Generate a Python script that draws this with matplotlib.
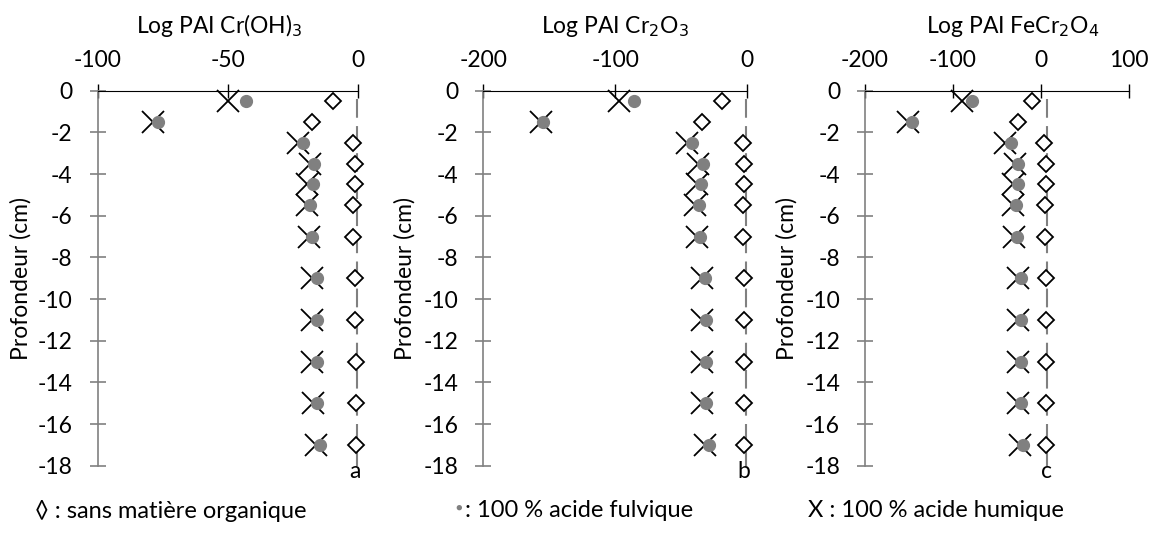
import numpy as np
import matplotlib.pyplot as plt

plt.rcParams['font.family'] = ['Lato', 'DejaVu Sans']
plt.rcParams['axes.unicode_minus'] = False

# profondeurs (cm)
depth = [-0.5, -1.5, -2.5, -3.5, -4.5, -5.5, -7, -9, -11, -13, -15, -17]

# a : Log PAI Cr(OH)3
a_sans = [-9.4, -17.5, -1.9, -1.0, -1.0, -1.9, -1.7, -1.0, -1.0, -0.8, -0.8, -0.8]
a_fulv = [-43, -76.9, -21.2, -16.8, -17.3, -18.3, -17.7, -15.8, -15.5, -15.5, -15.5, -14.5]
a_hum = [-49.8, -78.6, -22.8, -18.3, -19.6, -19.6, -18.6, -17.7, -17.5, -17.5, -17.3, -16.0]

# b : Log PAI Cr2O3
b_sans = [-19.4, -34.6, -3.5, -2.5, -2.5, -3.5, -3.0, -2.5, -2.5, -2.3, -2.3, -2.3]
b_fulv = [-85.8, -154.5, -42.1, -33.8, -35.0, -36.6, -35.8, -32.0, -31.5, -31.3, -31.3, -29.0]
b_hum = [-97, -156.3, -45.9, -37.1, -38.3, -39.6, -38.3, -34.6, -34.6, -34.0, -34.0, -32.0]

# c : Log PAI FeCr2O4
c_sans = [-9.5, -25.8, 3.8, 5.7, 5.7, 4.5, 4.5, 5.7, 5.7, 6.4, 6.4, 6.4]
c_fulv = [-78, -146, -34.5, -25.8, -26.5, -28.4, -26.9, -23.1, -22.7, -22.7, -23.1, -20.8]
c_hum = [-89.4, -150.8, -40.9, -29.5, -31.4, -32.2, -30.7, -25.8, -26.1, -25.8, -26.1, -23.9]

# ligne de reference (tirets)
ref_x = [-0.3, -1.0, 6.8]

titles = ['Log PAI Cr(OH)$_3$', 'Log PAI Cr$_2$O$_3$', 'Log PAI FeCr$_2$O$_4$']
letters = ['a', 'b', 'c']
letter_x = [-1, -3, 6]
xlims = [(-100, 0), (-200, 0), (-200, 100)]
xticks = [[-100, -50, 0], [-200, -100, 0], [-200, -100, 0, 100]]
title_x = [0.467, 0.5, 0.561]
lefts = [0.0845, 0.4181, 0.7483]
widths = [0.2249, 0.2284, 0.2281]

sans = [a_sans, b_sans, c_sans]
fulv = [a_fulv, b_fulv, c_fulv]
hum = [a_hum, b_hum, c_hum]

fig = plt.figure(figsize=(11.56, 5.35), dpi=100)
gray = '#808080'
fs = 16.5

for i in range(3):
    ax = fig.add_axes([lefts[i], 0.1295, widths[i], 0.7009])
    ax.plot([ref_x[i], ref_x[i]], [-0.4, -18], color=gray, lw=1.5,
            dashes=[9, 4], zorder=1, clip_on=False)
    ax.plot(sans[i], depth, ls='none', marker='D', ms=8.5, mfc='white',
            mec='black', mew=1.3, zorder=3, clip_on=False)
    ax.plot(hum[i], depth, ls='none', marker='x', ms=16.5, mec='black',
            mew=1.3, zorder=4, clip_on=False)
    ax.plot(fulv[i], depth, ls='none', marker='o', ms=8.5, mfc=gray,
            mec=gray, zorder=5, clip_on=False)

    ax.set_xlim(*xlims[i])
    ax.set_ylim(-18, 0)
    ax.set_xticks(xticks[i])
    ax.set_yticks(np.arange(0, -19, -2))
    ax.xaxis.tick_top()
    ax.xaxis.set_label_position('top')
    ax.set_xlabel(titles[i], fontsize=fs)
    ax.xaxis.set_label_coords(title_x[i], 1.155)
    ax.set_ylabel('Profondeur (cm)', fontsize=fs)
    ax.yaxis.set_label_coords(-0.255, 0.5)

    ax.spines['right'].set_visible(False)
    ax.spines['bottom'].set_visible(False)
    ax.spines['top'].set_color('black')
    ax.spines['left'].set_color(gray)
    ax.spines['left'].set_linewidth(1.2)
    ax.tick_params(axis='x', direction='inout', length=10, width=1,
                   color='black', labelsize=fs, pad=9)
    ax.tick_params(axis='y', direction='inout', length=12, width=1.2,
                   color=gray, labelsize=fs, pad=12)
    ax.set_facecolor('none')

    ax.text(letter_x[i], -18.3, letters[i], fontsize=fs, ha='center', va='center')

fig.text(0.03, 0.045, '\u25ca : sans matière organique', fontsize=17, va='center')
fig.text(0.394, 0.052, '\u25cf', fontsize=8, color=gray, va='center')
fig.text(0.402, 0.045, ': 100 % acide fulvique', fontsize=17, va='center')
fig.text(0.699, 0.045, 'X : 100 % acide humique', fontsize=17, va='center')

fig.savefig('out.png', dpi=100)
